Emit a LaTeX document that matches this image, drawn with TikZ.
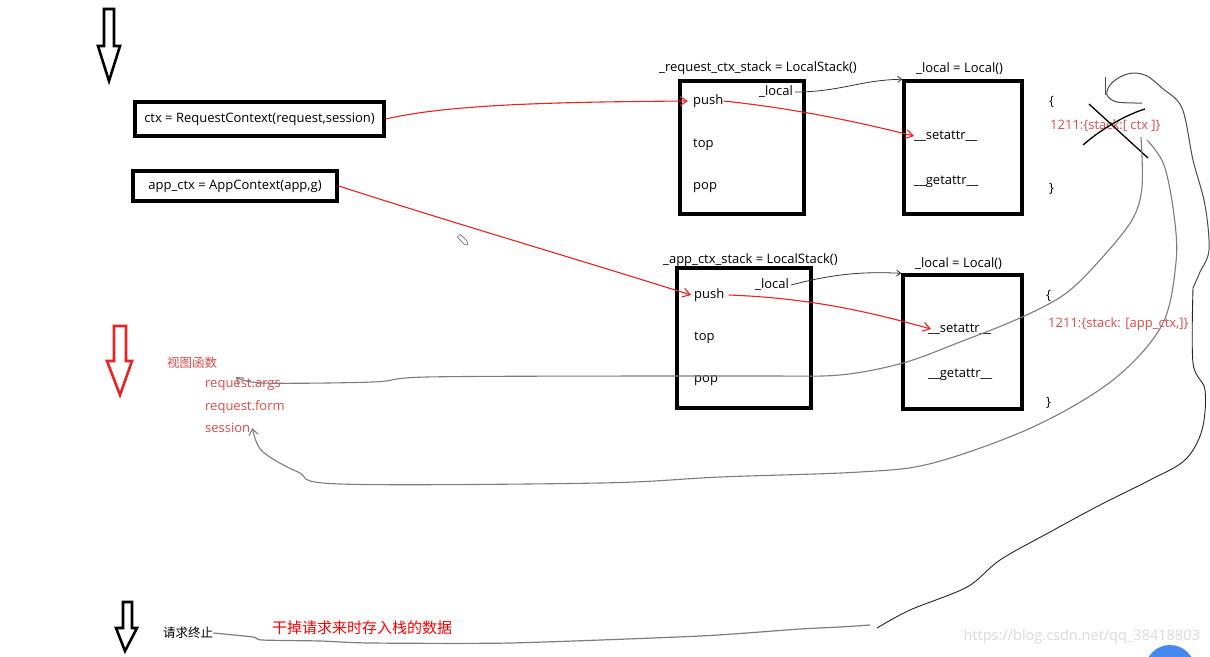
\documentclass[tikz,border=0pt]{standalone}
\usepackage{fontspec}
\setmainfont{Open Sans}
\newfontfamily\cjk{Noto Sans CJK SC}
\usetikzlibrary{arrows.meta}

\definecolor{penRed}{RGB}{232,36,36}
\definecolor{noteRed}{RGB}{226,74,74}
\definecolor{penGray}{RGB}{125,125,125}
\definecolor{dotBlue}{RGB}{70,135,240}

\begin{document}
\begin{tikzpicture}[x=1pt, y=-1pt,
    box/.style={draw, line width=3.5pt, inner sep=0pt},
    txt/.style={inner sep=0pt, font=\fontsize{13}{15}\selectfont},
    item/.style={txt, anchor=west},
    note/.style={item, text=noteRed},
    redPen/.style={penRed, line width=1.1pt, -{Straight Barb[length=7pt,width=9pt]}},
    grayPen/.style={penGray, line width=1.1pt, -{Straight Barb[length=6pt,width=9pt]}},
    inkPen/.style={black!80, line width=0.8pt, -{Straight Barb[length=4pt,width=6pt]}},
    hollow/.style={line width=2.6pt, line join=miter}]

    \clip (0,0) rectangle (1210,656);
    \fill[white] (0,0) rectangle (1210,656);

    %hollow arrows on the left
    \draw[hollow] (104,9) -- (114,9) -- (114,46) -- (120,46) -- (109,81) -- (98,46) -- (104,46) -- cycle;
    \draw[hollow, penRed] (114,326) -- (126,326) -- (126,361) -- (132,361) -- (120,395) -- (107,361) -- (114,361) -- cycle;
    \draw[hollow] (123,602) -- (132,602) -- (132,628) -- (137,628) -- (125,651) -- (116,628) -- (123,628) -- cycle;

    %contexts
    \node[box, txt, minimum width=249pt, minimum height=34pt] (ctx) at (259.5,119)
        {ctx = RequestContext(request,session)};
    \node[box, txt, minimum width=204pt, minimum height=30pt] (appctx) at (235,186)
        {app\_ctx = AppContext(app,g)};

    %stacks and locals
    \node[box, minimum width=124pt, minimum height=133pt] (reqStack) at (742,147.5) {};
    \node[box, minimum width=134pt, minimum height=140pt] (appStack) at (744,338) {};
    \node[box, minimum width=118pt, minimum height=133pt] (reqLocal) at (963,147.5) {};
    \node[box, minimum width=119pt, minimum height=134pt] (appLocal) at (962.5,342) {};

    \node[item] (reqStackLbl) at (659,68) {\_request\_ctx\_stack = LocalStack()};
    \node[item] (reqLocalLbl) at (916,69) {\_local = Local()};
    \node[item] (appStackLbl) at (663,260) {\_app\_ctx\_stack = LocalStack()};
    \node[item] (appLocalLbl) at (915,264) {\_local = Local()};

    \foreach \nm/\x/\y/\t in {
        pushA/693/101/push, localA/759/92/\_local, topA/693/145/top, popA/693/188/pop,
        setA/914/136/\_\_setattr\_\_, getA/914/182/\_\_getattr\_\_,
        pushB/694/295/push, localB/755/285/\_local, topB/694/338/top, popB/694/381/pop,
        setB/928/329/\_\_setattr\_\_, getB/928/375/\_\_getattr\_\_
    } {
        \node[item] (\nm) at (\x,\y) {\t};
    }

    %dict braces
    \foreach \nm/\x/\y/\t in {openA/1049/102/\{, closeA/1049/189/\}, openB/1046/296/\{, closeB/1046/403/\}} {
        \node[item] (\nm) at (\x,\y) {\t};
    }
    \node[note] (dictA) at (1050,126) {1211:\{stack:[ ctx ]\}};
    \node[note] (dictB) at (1048,324) {1211:\{stack: [app\_ctx,]\}};

    %view function
    \node[note, font=\cjk\fontsize{12.5}{14}\selectfont] (view) at (167,363) {视图函数};
    \node[note] (args) at (205,385) {request.args};
    \node[note] (form) at (205,407) {request.form};
    \node[note] (sess) at (205,428) {session};

    %request end
    \node[item, font=\cjk\fontsize{12.5}{14}\selectfont] (stop) at (163,633) {请求终止};
    \node[item, text=red, font=\cjk\fontsize{15}{16}\selectfont] (dropNote) at (272,628) {干掉请求来时存入栈的数据};

    %red pen
    \draw[redPen] (ctx.east) .. controls (450,104) and (560,102) .. ([xshift=-5pt]pushA.west);
    \draw[redPen] (pushA.east) .. controls (790,108) and (850,120) .. (setA.west);
    \draw[redPen] (appctx.east) .. controls (450,222) and (580,260) .. ([xshift=-3pt]pushB.west);
    \draw[redPen] ([xshift=4pt]pushB.east) .. controls (810,298) and (870,312) .. ([xshift=3pt]setB.west);

    %ink pen
    \draw[inkPen] ([xshift=2pt]localA.east) .. controls (840,92) and (860,80) .. (reqLocal.north west);
    \draw[inkPen] ([xshift=2pt]localB.east) .. controls (840,272) and (870,272) .. (appLocal.north west);

    %crossed out
    \draw[line width=1.3pt] (1089,104) -- (1148,158);
    \draw[line width=1.3pt] (1083,145) .. controls (1100,130) and (1125,115) .. (1145,109);

    %gray pen
    \coordinate (fromA) at (1141,137);
    \coordinate (argsIn) at (236,377);
    \coordinate (fromB) at (1147,140);
    \draw[grayPen] plot[smooth, tension=0.55] coordinates {
        (fromA) (1142,187) (1132,220) (1100,260) (1065,294) (1020,318) (960,342)
        (903,363) (840,375) (763,376) (640,376) (427,377) (373,382) (263,383) (argsIn)};
    \draw[grayPen] plot[smooth, tension=0.55] coordinates {
        (fromB) (1164,165) (1174,215) (1176,262) (1162,325) (1113,380) (1033,427)
        (933,463) (860,472) (720,477) (600,483) (340,484) (298,472) (262,451) ([xshift=2pt]sess.east)};

    %outer stroke
    \draw[black!70, line width=1pt] (1105,77) -- (1105,95);
    \draw[black!70, line width=1pt] plot[smooth, tension=0.55] coordinates {
        (1142,103) (1117,102) (1107,95) (1110,85) (1120,77) (1133,73) (1147,76) (1162,88)
        (1182,108) (1193,160) (1205,205) (1209,250) (1200,272) (1193,288)};
    \draw[black!85, line width=0.9pt] plot[smooth, tension=0.55] coordinates {
        (1193,288) (1193,363) (1205,390) (1202,430) (1185,460) (1150,480) (1100,505)
        (1050,532) (1000,560) (967,587) (910,610) (877,628)};
    \draw[penGray, line width=1.2pt] plot[smooth, tension=0.4] coordinates {
        (870,625) (840,627) (800,629) (700,636) (510,643) (370,643) (320,641) (262,640)
        (253,637) (stop.east)};

    %pencil cursor
    \draw[black!55, line width=0.6pt, rotate around={-45:(463,240)}]
        (457,238) -- (467,238) -- (470,240) -- (467,242) -- (457,242) -- cycle;

    %watermark
    \node[anchor=east, inner sep=0pt, text=black!14, font=\fontsize{14.5}{18}\selectfont] (mark) at (1200,637) {https://blog.csdn.net/qq\_38418803};
    \fill[dotBlue] (1170,670) circle (25);
\end{tikzpicture}
\end{document}
